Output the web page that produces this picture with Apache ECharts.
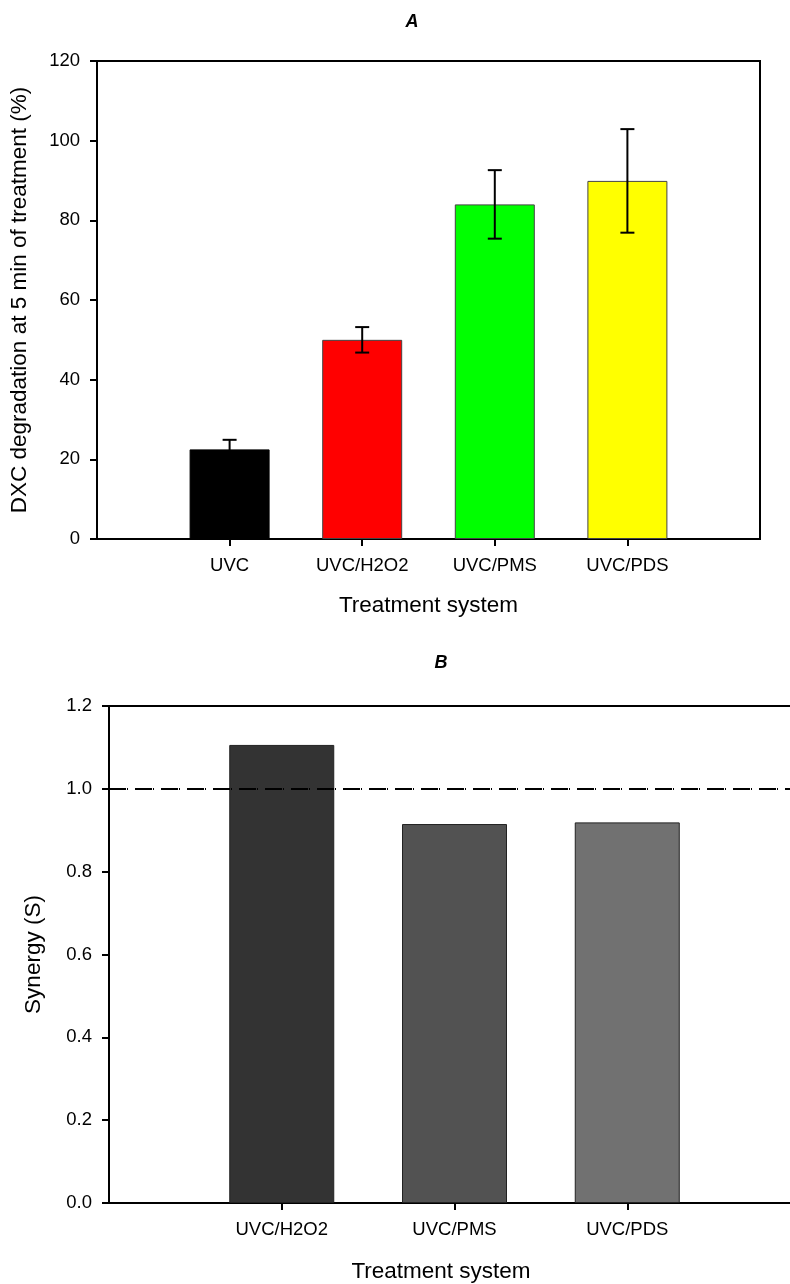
<!DOCTYPE html>
<html>
<head>
<meta charset="utf-8">
<script src="https://cdn.jsdelivr.net/npm/echarts@6/dist/echarts.min.js"></script>
<style>html,body{margin:0;padding:0;background:#fff;overflow:hidden}#c{width:812px;height:1284px}</style>
</head>
<body>
<div id="c"></div>
<script>
// ---- Data ----
const categoriesA = ['UVC', 'UVC/H2O2', 'UVC/PMS', 'UVC/PDS'];
const valuesA = [22.5, 50.0, 84.0, 89.9];
const errorsA = [2.4, 3.2, 8.6, 13.0];
const colorsA = ['#000000', '#ff0000', '#00ff00', '#ffff00'];
const yTicksA = [0, 20, 40, 60, 80, 100, 120];

const categoriesB = ['UVC/H2O2', 'UVC/PMS', 'UVC/PDS'];
const valuesB = [1.106, 0.915, 0.919];
const colorsB = ['#333333', '#525252', '#717171'];
const yTicksB = [0, 0.2, 0.4, 0.6, 0.8, 1.0, 1.2];
const referenceB = 1.0;

// ---- Chart ----
const FONT = '"Liberation Sans", Arial, sans-serif';
const chart = echarts.init(document.getElementById('c'), null, {renderer: 'canvas'});

const padA = ['', ...categoriesA, ''];
const padB = ['', ...categoriesB, ''];

function catAxis(gridIndex, data) {
  return {
    type: 'category', gridIndex, data, boundaryGap: false,
    axisLine: {show: true, lineStyle: {color: '#000', width: 2}},
    axisTick: {show: true, length: 7, lineStyle: {color: '#000', width: 2},
      interval: (i, v) => v !== ''},
    axisLabel: {show: true, color: '#000', fontFamily: FONT, fontSize: 18.5, margin: 17,
      interval: (i, v) => v !== ''},
    splitLine: {show: false}
  };
}

function valAxis(gridIndex, ticks, name, nameGap, fmt) {
  return {
    type: 'value', gridIndex,
    min: ticks[0], max: ticks[ticks.length - 1], interval: ticks[1] - ticks[0],
    name, nameLocation: 'middle', nameGap, nameRotate: 90,
    nameTextStyle: {fontFamily: FONT, fontSize: 22.5, color: '#000'},
    axisLine: {show: true, lineStyle: {color: '#000', width: 2}},
    axisTick: {show: true, length: 7, lineStyle: {color: '#000', width: 2}},
    axisLabel: {color: '#000', fontFamily: FONT, fontSize: 18.5, margin: 17, formatter: fmt},
    splitLine: {show: false}
  };
}

const option = {
  animation: false,
  backgroundColor: '#fff',
  title: [
    {text: 'A', left: 412, top: 22, textAlign: 'center', textVerticalAlign: 'middle', padding: 0,
      textStyle: {fontStyle: 'italic', fontWeight: 'bold', fontSize: 18, fontFamily: FONT, color: '#000'}},
    {text: 'B', left: 441, top: 663, textAlign: 'center', textVerticalAlign: 'middle', padding: 0,
      textStyle: {fontStyle: 'italic', fontWeight: 'bold', fontSize: 18, fontFamily: FONT, color: '#000'}},
    {text: 'Treatment system', left: 441, top: 1272, textAlign: 'center', textVerticalAlign: 'middle', padding: 0,
      textStyle: {fontWeight: 'normal', fontSize: 22.5, fontFamily: FONT, color: '#000'}}
  ],
  grid: [
    {left: 97, top: 61, width: 663, height: 478, show: true, borderColor: '#000', borderWidth: 2, containLabel: false},
    {left: 109, top: 706, width: 691, height: 497, show: true, borderColor: '#000', borderWidth: 2, containLabel: false}
  ],
  xAxis: [
    Object.assign(catAxis(0, padA), {name: 'Treatment system', nameLocation: 'middle', nameGap: 55,
      nameTextStyle: {fontFamily: FONT, fontSize: 22.5, color: '#000'}}),
    catAxis(1, padB)
  ],
  yAxis: [
    valAxis(0, yTicksA, 'DXC degradation at 5 min of treatment (%)', 66, v => String(v)),
    valAxis(1, yTicksB, 'Synergy (S)', 64, v => v.toFixed(1))
  ],
  series: [
    {
      type: 'bar', xAxisIndex: 0, yAxisIndex: 0, barWidth: 80,
      data: [null, ...valuesA.map((v, i) => ({value: v, itemStyle: {color: colorsA[i], borderColor: i === 0 ? '#000' : '#444', borderWidth: 1}})), null]
    },
    {
      type: 'custom', xAxisIndex: 0, yAxisIndex: 0,
      data: valuesA.map((v, i) => [i + 1, v - errorsA[i], v + errorsA[i]]),
      renderItem: (params, api) => {
        const x = api.value(0);
        const lo = api.coord([x, api.value(1)]);
        const hi = api.coord([x, api.value(2)]);
        const hw = 7;
        const st = {stroke: '#000', lineWidth: 2};
        return {type: 'group', children: [
          {type: 'line', shape: {x1: hi[0], y1: hi[1], x2: lo[0], y2: lo[1]}, style: st},
          {type: 'line', shape: {x1: hi[0] - hw, y1: hi[1], x2: hi[0] + hw, y2: hi[1]}, style: st},
          {type: 'line', shape: {x1: lo[0] - hw, y1: lo[1], x2: lo[0] + hw, y2: lo[1]}, style: st}
        ]};
      },
      z: 5
    },
    {
      type: 'bar', xAxisIndex: 1, yAxisIndex: 1, barWidth: 105,
      data: [null, ...valuesB.map((v, i) => ({value: v, itemStyle: {color: colorsB[i], borderColor: '#222', borderWidth: 1}})), null],
      markLine: {
        silent: true, symbol: 'none', label: {show: false},
        lineStyle: {color: '#000', width: 2, type: [17, 1, 1, 7]},
        data: [{yAxis: referenceB}]
      }
    }
  ]
};
chart.setOption(option);
</script>
</body>
</html>
